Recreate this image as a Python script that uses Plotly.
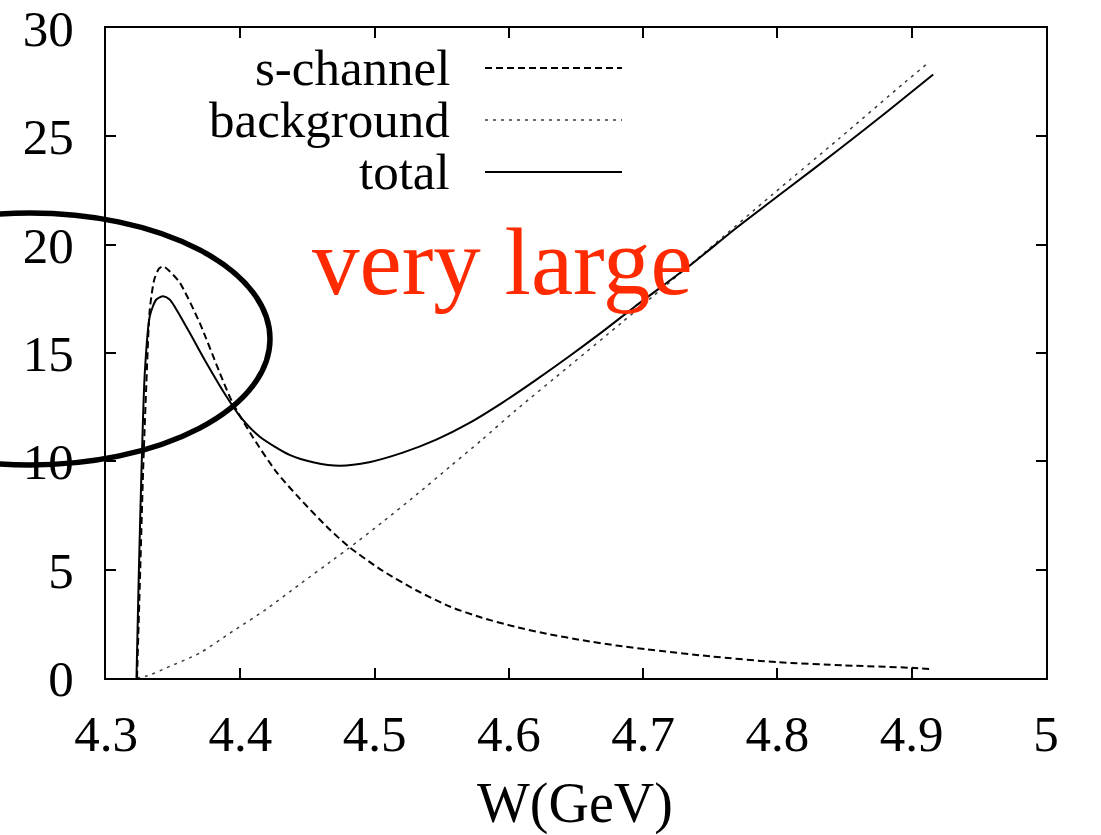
import plotly.graph_objects as go

# ---- data ----
s_w = [4.3231, 4.3255, 4.3276, 4.3300, 4.3326, 4.3360, 4.3395, 4.3425, 4.3470, 4.3549,
       4.3697, 4.3846, 4.3943, 4.4090, 4.4270, 4.4440, 4.4650, 4.4810, 4.5060, 4.5310,
       4.5560, 4.5800, 4.6050, 4.6300, 4.6550, 4.6800, 4.7020, 4.7500, 4.8000, 4.8500,
       4.9000, 4.9150]
s_v = [0.0, 5.0, 9.5, 13.5, 17.0, 18.4, 18.9, 19.0, 18.8, 18.25,
       16.4, 14.1, 12.7, 11.15, 9.5, 8.3, 6.95, 6.05, 4.95, 4.05,
       3.3, 2.78, 2.36, 2.02, 1.74, 1.5, 1.33, 1.0, 0.73, 0.58,
       0.47, 0.40]

b_w = [4.3230, 4.3310, 4.3450, 4.3700, 4.3945, 4.4190, 4.4440, 4.4690, 4.4810, 4.5060,
       4.5310, 4.5560, 4.5800, 4.6050, 4.6450, 4.6840, 4.7070, 4.7470, 4.7960, 4.8460,
       4.8950, 4.9125]
b_v = [0.0, 0.1, 0.47, 1.16, 2.16, 3.16, 4.31, 5.45, 6.0, 7.2,
       8.45, 9.75, 11.0, 12.35, 14.4, 16.4, 17.6, 19.7, 22.3, 24.9,
       27.5, 28.4]

t_w = [4.3227, 4.3245, 4.3264, 4.3289, 4.3326, 4.3375, 4.3425, 4.3474, 4.3599, 4.3747,
       4.3896, 4.3995, 4.4143, 4.4367, 4.4550, 4.4740, 4.4960, 4.5210, 4.5460, 4.5700,
       4.5950, 4.6200, 4.6450, 4.6700, 4.6940, 4.7340, 4.7710, 4.8080, 4.8460, 4.8830,
       4.9160]
t_v = [0.0, 5.0, 9.5, 14.1, 16.7, 17.47, 17.62, 17.47, 16.2, 14.55,
       13.0, 12.1, 11.15, 10.3, 9.95, 9.8, 9.96, 10.4, 11.0, 11.75,
       12.7, 13.75, 14.85, 16.0, 17.15, 19.0, 20.85, 22.6, 24.4, 26.2,
       27.85]

x_ticks = [4.3, 4.4, 4.5, 4.6, 4.7, 4.8, 4.9, 5.0]
x_labels = ["4.3", "4.4", "4.5", "4.6", "4.7", "4.8", "4.9", "5"]
y_ticks = [0, 5, 10, 15, 20, 25, 30]

series_names = ["s-channel", "background", "total"]

FONT = "Times New Roman"
FS = 51

S_DASH = "7px,4px"
B_DASH = "3px,5px"
B_COL = "#3a3a3a"

fig = go.Figure()
fig.add_trace(go.Scatter(x=s_w, y=s_v, mode="lines", name=series_names[0],
                         line=dict(color="black", width=2, dash=S_DASH, shape="spline", smoothing=0.7)))
fig.add_trace(go.Scatter(x=b_w, y=b_v, mode="lines", name=series_names[1],
                         line=dict(color=B_COL, width=1.5, dash=B_DASH, shape="spline", smoothing=0.7)))
fig.add_trace(go.Scatter(x=t_w, y=t_v, mode="lines", name=series_names[2],
                         line=dict(color="black", width=2, shape="spline", smoothing=0.7)))

W, H = 1101, 835
L, R, T, B = 106, 55, 28, 157
pw, ph = W - L - R, H - T - B

def px(x):
    return (x - L) / pw

def py(y):
    return (H - B - y) / ph

shapes = []
annotations = []
# manual legend (text on left, sample on right)
leg_y = [68, 120, 172]
leg_dash = [S_DASH, B_DASH, "solid"]
leg_col = ["black", B_COL, "black"]
leg_w = [2, 1.5, 2]
for name, yy, d, c, lw in zip(series_names, leg_y, leg_dash, leg_col, leg_w):
    annotations.append(dict(x=px(452), y=py(yy), xref="paper", yref="paper",
                            text=name, showarrow=False, xanchor="right", yanchor="middle",
                            font=dict(family=FONT, size=51, color="black")))
    shapes.append(dict(type="line", xref="paper", yref="paper",
                       x0=px(485), x1=px(622), y0=py(yy), y1=py(yy),
                       line=dict(color=c, width=lw, dash=d)))

# x-axis title
annotations.append(dict(x=px(575), y=py(803), xref="paper", yref="paper",
                        text="W(GeV)", showarrow=False, xanchor="center", yanchor="middle",
                        font=dict(family=FONT, size=56, color="black")))

# red text
annotations.append(dict(x=px(502), y=py(262), xref="paper", yref="paper",
                        text="very large", showarrow=False, xanchor="center", yanchor="middle",
                        font=dict(family=FONT, size=95, color="#FF2A00")))

# black ellipse
shapes.append(dict(type="circle", xref="paper", yref="paper",
                   x0=px(-210), x1=px(270), y0=py(465), y1=py(213),
                   line=dict(color="black", width=5.5), layer="above"))

fig.update_layout(
    width=W, height=H,
    margin=dict(l=L, r=R, t=T, b=B, autoexpand=False),
    paper_bgcolor="white", plot_bgcolor="white",
    showlegend=False,
    font=dict(family=FONT, size=FS, color="black"),
    shapes=shapes, annotations=annotations,
    xaxis=dict(range=[4.3, 5.0], tickmode="array", tickvals=x_ticks, ticktext=x_labels,
               ticks="inside", ticklen=10, tickwidth=1.5, tickcolor="black",
               showline=True, linewidth=2, linecolor="black", mirror="ticks",
               showgrid=False, zeroline=False, automargin=False,
               tickfont=dict(family=FONT, size=FS), ticklabelstandoff=10),
    yaxis=dict(range=[0, 30], tickmode="array", tickvals=y_ticks,
               ticks="inside", ticklen=10, tickwidth=1.5, tickcolor="black",
               showline=True, linewidth=2, linecolor="black", mirror="ticks",
               showgrid=False, zeroline=False, automargin=False,
               tickfont=dict(family=FONT, size=FS), ticklabelstandoff=20),
)

fig.write_html("out.html", config={"displayModeBar": False},
               post_script="document.body.style.margin='0';")
